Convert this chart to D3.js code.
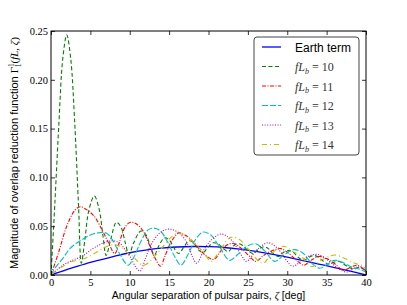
<!DOCTYPE html>
<html>
<head>
<meta charset="utf-8">
<script src="https://cdn.jsdelivr.net/npm/d3@7"></script>
<style>
  body { margin: 0; background: #fff; }
  svg { display: block; }
</style>
</head>
<body>
<svg id="chart" width="407" height="305"></svg>
<script>
// tick values
var xTicks = [0, 5, 10, 15, 20, 25, 30, 35, 40];
var yTicks = [0, 0.05, 0.10, 0.15, 0.20, 0.25];

// series as [zeta, magnitude]
var earthTerm = [[0,0],[2,0.0055],[4,0.0105],[5,0.013],[6,0.015],[8,0.019],[10,0.0228],[12,0.0255],[14,0.0275],[16,0.0287],[18,0.0292],[20,0.029],[22,0.0282],[24,0.0265],[26,0.0242],[28,0.0214],[30,0.0182],[32,0.0148],[34,0.0112],[36,0.0076],[38,0.0039],[40,0]];

var fL10 = [[0,0],[0.5,0.075],[1,0.155],[1.5,0.222],[2,0.246],[2.5,0.222],[3,0.158],[3.5,0.07],[3.85,0.012],[4.3,0.036],[4.8,0.066],[5.5,0.081],[6.1,0.068],[6.6,0.04],[7.0,0.02],[7.6,0.037],[8.3,0.054],[8.9,0.049],[9.4,0.034],[9.9,0.021],[10.5,0.033],[11.4,0.045],[12,0.042],[12.6,0.03],[13.1,0.02],[13.7,0.03],[14.4,0.038],[15,0.036],[15.6,0.028],[16.2,0.022],[16.9,0.029],[17.5,0.035],[18.1,0.033],[18.7,0.026],[19.3,0.023],[20,0.029],[20.6,0.033],[21.2,0.032],[21.9,0.027],[22.5,0.024],[23.2,0.03],[23.8,0.032],[24.4,0.03],[25,0.025],[25.7,0.022],[26.3,0.026],[27,0.029],[27.6,0.027],[28.2,0.022],[28.9,0.019],[29.5,0.023],[30.2,0.025],[30.8,0.023],[31.4,0.018],[32.1,0.015],[32.7,0.018],[33.4,0.02],[34,0.018],[34.6,0.014],[35.3,0.011],[35.9,0.013],[36.6,0.014],[37.2,0.011],[37.8,0.008],[38.5,0.006],[39.1,0.008],[39.7,0.006],[40,0.005]];

var fL11 = [[0,0],[1,0.024],[2,0.05],[3,0.066],[3.7,0.07],[4.5,0.067],[5.5,0.06],[6.5,0.046],[7.3,0.033],[8.1,0.022],[8.7,0.034],[9.4,0.049],[10.1,0.054],[10.9,0.052],[11.7,0.045],[12.6,0.029],[13.3,0.016],[13.9,0.009],[14.5,0.02],[15.2,0.033],[16.2,0.043],[17,0.041],[17.8,0.036],[18.8,0.027],[19.8,0.019],[20.7,0.016],[21.5,0.024],[22.4,0.031],[23.3,0.032],[24.2,0.027],[25.1,0.02],[26,0.014],[27,0.02],[28.1,0.025],[29.2,0.027],[30.2,0.022],[31.2,0.015],[32.1,0.01],[33,0.015],[34,0.019],[35,0.017],[36.1,0.011],[37.1,0.005],[38.1,0.008],[38.9,0.01],[40,0.004]];

var fL12 = [[0,0],[0.5,0.007],[1.5,0.017],[2.4,0.027],[3.7,0.035],[5,0.041],[5.8,0.043],[7,0.043],[7.8,0.036],[8.7,0.022],[9.8,0.01],[10.5,0.018],[11.4,0.034],[12.3,0.046],[13.1,0.048],[13.9,0.045],[14.8,0.034],[15.7,0.019],[16.5,0.01],[17.4,0.021],[18.4,0.037],[19.3,0.044],[20.3,0.041],[21.3,0.03],[22.7,0.015],[23.7,0.021],[25,0.03],[26,0.032],[27.1,0.025],[28.4,0.014],[29.5,0.02],[30.8,0.026],[31.9,0.023],[33,0.013],[34.1,0.007],[35.1,0.011],[36,0.015],[37,0.013],[38.2,0.008],[39.2,0.006],[40,0.003]];

var fL13 = [[0,0],[1.5,0.01],[2.7,0.015],[3.9,0.019],[5.3,0.027],[6.2,0.031],[7,0.034],[7.9,0.035],[8.7,0.033],[9.4,0.026],[10.1,0.018],[10.7,0.009],[11.3,0.004],[12,0.017],[12.7,0.031],[13.8,0.043],[14.9,0.047],[16.1,0.044],[17.2,0.034],[18,0.018],[18.5,0.012],[19.5,0.027],[20.4,0.036],[21.6,0.042],[22.9,0.036],[24.2,0.02],[24.8,0.014],[26.3,0.027],[27.6,0.033],[28.8,0.027],[30,0.014],[30.7,0.009],[32.6,0.019],[33.9,0.021],[35.2,0.015],[36.4,0.007],[37.6,0.003],[38.8,0.008],[40,0.007]];

var fL14 = [[0,0],[1.1,0.007],[2.8,0.014],[4.3,0.017],[5.3,0.021],[7,0.029],[7.9,0.031],[8.9,0.029],[9.8,0.022],[10.4,0.019],[11,0.014],[11.7,0.01],[12.3,0.012],[14,0.027],[15.3,0.039],[16.1,0.043],[17.2,0.039],[18.7,0.029],[19.5,0.022],[20.3,0.014],[21.2,0.022],[22.5,0.037],[23.1,0.039],[24,0.036],[25,0.027],[26.9,0.012],[28,0.022],[29.2,0.029],[29.8,0.029],[30.5,0.025],[31.8,0.019],[33.1,0.0085],[34.3,0.015],[36,0.0205],[37.3,0.017],[38.6,0.012],[40,0.009]];

var seriesNames = ["Earth term", "10", "11", "12", "13", "14"];
var seriesData = [earthTerm, fL10, fL11, fL12, fL13, fL14];
var seriesColors = ["#0000ff", "#008000", "#ff0000", "#00bfbf", "#bf00bf", "#bfbf00"];
var seriesDash = [null, "4,2.5", "4,1.5,1,1.5", "6,2", "1,1.6", "5,3,1,3"];

var svg = d3.select("#chart");
var margin = { left: 51, right: 41, top: 31, bottom: 30 };
var width = 407 - margin.left - margin.right;
var height = 305 - margin.top - margin.bottom;

var x = d3.scaleLinear().domain([0, 40]).range([margin.left, margin.left + width]);
var y = d3.scaleLinear().domain([0, 0.25]).range([margin.top + height, margin.top]);

svg.append("defs").append("clipPath").attr("id", "plot")
  .append("rect")
    .attr("x", margin.left).attr("y", margin.top - 1)
    .attr("width", width).attr("height", height + 1);

var line = d3.line()
    .x(function (d) { return x(d[0]); })
    .y(function (d) { return y(d[1]); })
    .curve(d3.curveCatmullRom.alpha(0.5));

var lines = svg.append("g").attr("clip-path", "url(#plot)");
seriesData.forEach(function (data, i) {
	lines.append("path")
	    .datum(data)
	    .attr("d", line)
	    .attr("fill", "none")
	    .attr("stroke", seriesColors[i])
	    .attr("stroke-width", i === 0 ? 1.3 : 1.1)
	    .attr("stroke-dasharray", seriesDash[i]);
});

var tickFont = "'Liberation Serif', 'Times New Roman', serif";

var styleAxis = function (g) {
	g.select(".domain").remove();
	g.selectAll(".tick line").attr("stroke", "#000").attr("stroke-width", 0.8);
	g.selectAll(".tick text").attr("font-family", tickFont).attr("font-size", 10.5).attr("fill", "#000");
};

svg.append("g")
    .attr("transform", "translate(0," + (margin.top + height) + ")")
    .call(d3.axisBottom(x).tickValues(xTicks).tickSize(-4).tickPadding(4).tickFormat(d3.format("d")))
    .call(styleAxis);
svg.append("g")
    .attr("transform", "translate(0," + margin.top + ")")
    .call(d3.axisTop(x).tickValues(xTicks).tickSize(-4).tickFormat(""))
    .call(styleAxis);
svg.append("g")
    .attr("transform", "translate(" + margin.left + ",0)")
    .call(d3.axisLeft(y).tickValues(yTicks).tickSize(-4).tickPadding(3).tickFormat(d3.format(".2f")))
    .call(styleAxis);
svg.append("g")
    .attr("transform", "translate(" + (margin.left + width) + ",0)")
    .call(d3.axisRight(y).tickValues(yTicks).tickSize(-4).tickFormat(""))
    .call(styleAxis);

svg.append("rect")
    .attr("x", margin.left).attr("y", margin.top)
    .attr("width", width).attr("height", height)
    .attr("fill", "none").attr("stroke", "#000").attr("stroke-width", 1);

// axis labels
var xlab = svg.append("text")
    .attr("x", margin.left + width / 2).attr("y", 299)
    .attr("text-anchor", "middle")
    .attr("font-family", "'Liberation Sans', Arial, sans-serif")
    .attr("font-size", 10.5);
xlab.append("tspan").text("Angular separation of pulsar pairs, ");
xlab.append("tspan").attr("font-family", tickFont).attr("font-style", "italic").text("ζ");
xlab.append("tspan").text(" [deg]");

var ylab = svg.append("text")
    .attr("transform", "translate(18," + (margin.top + height / 2) + ") rotate(-90)")
    .attr("text-anchor", "middle")
    .attr("font-family", "'Liberation Sans', Arial, sans-serif")
    .attr("font-size", 11);
ylab.append("tspan").text("Magnitude of overlap reduction function ");
ylab.append("tspan").attr("font-family", tickFont).text("Γ");
ylab.append("tspan").attr("font-family", tickFont).attr("font-size", 7.5).attr("dy", -4).text("1");
ylab.append("tspan").attr("font-family", tickFont).attr("font-size", 7.5).attr("dx", -3.8).attr("dy", 7).text("1");
ylab.append("tspan").attr("font-family", tickFont).attr("dy", -3).text("(");
ylab.append("tspan").attr("font-family", tickFont).attr("font-style", "italic").text("fL, ζ");
ylab.append("tspan").attr("font-family", tickFont).text(")");

// legend
var legend = svg.append("g");
legend.append("rect")
    .attr("x", 254).attr("y", 37)
    .attr("width", 105).attr("height", 118)
    .attr("rx", 3).attr("ry", 3)
    .attr("fill", "#fff").attr("stroke", "#444").attr("stroke-width", 1);

seriesNames.forEach(function (name, i) {
	var ly = 47 + i * 19.5;
	legend.append("line")
	    .attr("x1", 262).attr("x2", 281)
	    .attr("y1", ly).attr("y2", ly)
	    .attr("stroke", seriesColors[i])
	    .attr("stroke-width", i === 0 ? 1.3 : 1.1)
	    .attr("stroke-dasharray", seriesDash[i]);
	var t = legend.append("text")
	    .attr("x", 295).attr("y", ly + 4.5)
	    .attr("font-size", 12);
	if (i === 0) {
		t.attr("font-family", "'Liberation Sans', Arial, sans-serif").text(name);
	} else {
		t.attr("font-family", tickFont).attr("fill", "#333");
		t.append("tspan").attr("font-style", "italic").text("fL");
		t.append("tspan").attr("font-style", "italic").attr("font-size", 8).attr("dy", 2.5).text("b");
		t.append("tspan").attr("dy", -2.5).text(" = " + name);
	}
});
</script>
</body>
</html>
